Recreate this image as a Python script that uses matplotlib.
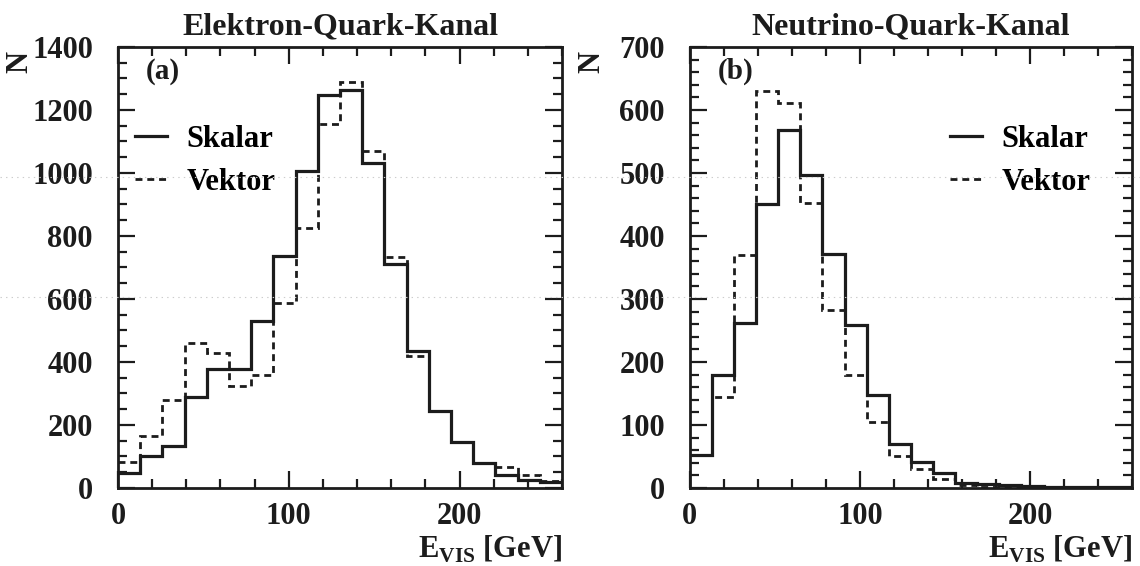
import numpy as np
import matplotlib
matplotlib.use("Agg")
import matplotlib.pyplot as plt
from matplotlib.lines import Line2D
from matplotlib.ticker import MultipleLocator

# DATA
edges = np.linspace(0, 260, 21)   # 20 bins of 13 GeV

skalar_e = [48, 101, 132, 289, 379, 377, 530, 735, 1005, 1249,
            1264, 1031, 710, 434, 245, 147, 78, 40, 25, 18]
vektor_e = [83, 166, 278, 461, 427, 324, 358, 588, 824, 1157,
            1290, 1070, 732, 419, 245, 147, 78, 67, 40, 23]

skalar_n = [52, 179, 262, 451, 568, 497, 372, 259, 148, 70,
            41, 24, 8, 6, 4, 3, 2, 2, 1, 1]
vektor_n = [52, 145, 369, 630, 611, 452, 283, 179, 105, 50,
            30, 14, 4, 2, 1, 1, 1, 0, 0, 0]

titles = ["Elektron-Quark-Kanal", "Neutrino-Quark-Kanal"]
tags = ["(a)", "(b)"]
ymax = [1400, 700]
ymajor = [200, 100]
yminor = [50, 20]

plt.rcParams['font.family'] = ['Liberation Serif', 'DejaVu Serif']
plt.rcParams['font.weight'] = 'bold'
plt.rcParams['mathtext.fontset'] = 'custom'
plt.rcParams['mathtext.rm'] = 'Liberation Serif:bold'
plt.rcParams['mathtext.bf'] = 'Liberation Serif:bold'
plt.rcParams['lines.scale_dashes'] = False

ink = '#1c1c1c'

fig = plt.figure(figsize=(11.4, 5.66), dpi=100)
ax1 = fig.add_axes([0.1035, 0.138, 0.3895, 0.779])
ax2 = fig.add_axes([0.605, 0.138, 0.388, 0.779])

data = [(skalar_e, vektor_e), (skalar_n, vektor_n)]

for i, ax in enumerate([ax1, ax2]):
    s, v = data[i]
    ax.stairs(v, edges, baseline=None, color=ink, lw=2.0, linestyle=(0, (5, 3.5)))
    ax.stairs(s, edges, baseline=None, color=ink, lw=2.3)

    ax.set_xlim(0, 260)
    ax.set_ylim(0, ymax[i])
    ax.xaxis.set_major_locator(MultipleLocator(100))
    ax.xaxis.set_minor_locator(MultipleLocator(20))
    ax.yaxis.set_major_locator(MultipleLocator(ymajor[i]))
    ax.yaxis.set_minor_locator(MultipleLocator(yminor[i]))
    ax.tick_params(which='both', direction='in', top=True, right=True,
                   color=ink, width=1.6, labelsize=22, labelcolor=ink)
    ax.tick_params(which='major', length=12)
    ax.tick_params(which='minor', length=6.5)
    ax.tick_params(axis='y', pad=18)
    ax.tick_params(axis='x', pad=10)
    for sp in ax.spines.values():
        sp.set_linewidth(2.0)
        sp.set_color(ink)

    ax.set_title(titles[i], fontsize=23, fontweight='bold', color=ink, pad=9)
    ax.text(0.063, 0.975, tags[i], transform=ax.transAxes, ha='left', va='top',
            fontsize=21, fontweight='bold', color=ink)
    ax.text(-0.222, 0.99, "N", transform=ax.transAxes, rotation=90, ha='center',
            va='top', fontsize=22, fontweight='bold', color=ink)
    ax.set_xlabel(r"E$_{\mathrm{VIS}}$ [GeV]", fontsize=22, fontweight='bold',
                  color=ink, loc='right', labelpad=2)

handles = [Line2D([], [], color=ink, lw=2.3),
           Line2D([], [], color=ink, lw=2.0, linestyle=(0, (5, 3.5)))]
labels = ["Skalar", "Vektor"]

ax1.legend(handles, labels, loc='upper left', bbox_to_anchor=(0.038, 0.823),
           frameon=False, fontsize=22, handlelength=1.05, handletextpad=0.65,
           labelspacing=0.45, borderaxespad=0, borderpad=0)
ax2.legend(handles, labels, loc='upper left', bbox_to_anchor=(0.588, 0.823),
           frameon=False, fontsize=22, handlelength=1.05, handletextpad=0.65,
           labelspacing=0.45, borderaxespad=0, borderpad=0)

# faint scan lines across the page
for yy in [0.475, 0.687]:
    fig.add_artist(Line2D([0, 1], [yy, yy], transform=fig.transFigure,
                          color='#cccccc', lw=0.8, linestyle=(0, (1, 3))))

fig.savefig("out.png", dpi=100)
